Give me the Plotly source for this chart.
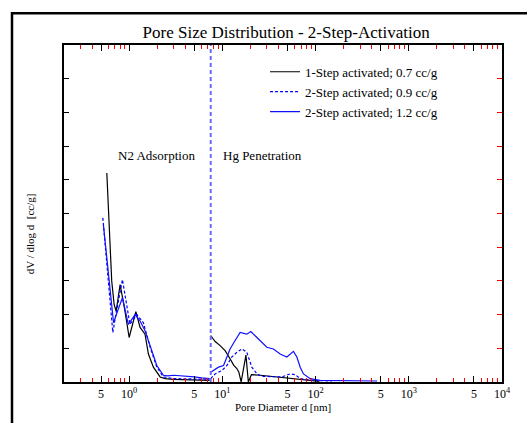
import plotly.graph_objects as go
import math

# ---------------- data ----------------
# N2 adsorption branch (pore diameter nm, dV/dlog d)
n2_d_1step = [0.576, 0.65, 0.69, 0.725, 0.80, 0.89, 1.0, 1.18, 1.31, 1.48, 1.61, 1.82, 2.15, 2.43, 3.0, 4.0, 5.0, 6.0, 7.3]
n2_v_1step = [6.2, 3.0, 2.3, 2.1, 2.89, 2.2, 1.32, 2.09, 1.62, 1.42, 0.83, 0.44, 0.15, 0.10, 0.08, 0.07, 0.06, 0.05, 0.05]

n2_d_2step09 = [0.522, 0.668, 0.72, 0.847, 1.02, 1.21, 1.42, 1.68, 1.98, 2.33, 3.0, 4.0, 5.0, 6.0, 7.3]
n2_v_2step09 = [4.87, 1.47, 2.0, 3.04, 1.71, 2.0, 1.76, 1.03, 0.44, 0.15, 0.10, 0.10, 0.09, 0.08, 0.08]

n2_d_2step12 = [0.53, 0.68, 0.75, 0.847, 0.98, 1.16, 1.31, 1.48, 1.75, 1.98, 2.33, 2.6, 3.0, 4.0, 5.0, 6.0, 7.3]
n2_v_2step12 = [4.65, 1.76, 2.1, 2.5, 1.71, 2.0, 1.81, 1.52, 0.93, 0.49, 0.2, 0.18, 0.2, 0.18, 0.15, 0.12, 0.1]

# Hg penetration branch
hg_d_1step = [7.5, 8.37, 9.47, 10.7, 12.1, 13.2, 14.3, 15.0, 15.9, 16.8, 17.9, 19.0, 20.5, 25.5, 32.6, 45.3, 68.4, 94.9, 110]
hg_v_1step = [1.38, 1.2, 1.08, 0.93, 0.69, 0.5, 0.4, 0.3, 0.0, 0.4, 0.8, 0.0, 0.22, 0.2, 0.17, 0.14, 0.1, 0.05, 0.02]

hg_d_2step09 = [7.5, 8.37, 9.88, 11.2, 12.6, 14.3, 16.2, 18.3, 20.7, 23.5, 26.5, 34.0, 43.5, 53.4, 60.4, 68.4, 91.2, 150]
hg_v_2step09 = [0.1, 0.24, 0.34, 0.49, 0.74, 0.88, 0.98, 0.88, 0.44, 0.24, 0.17, 0.15, 0.15, 0.24, 0.22, 0.1, 0.05, 0.03]

hg_d_2step12 = [7.5, 9.08, 10.3, 12.1, 13.7, 15.5, 18.3, 20.2, 23.5, 26.5, 30.0, 35.3, 41.7, 49.2, 57.9, 63.0, 68.4, 74.2, 87.5, 112, 200, 458]
hg_v_2step12 = [0.29, 0.44, 0.49, 0.98, 1.23, 1.47, 1.42, 1.5, 1.32, 1.18, 1.03, 0.98, 0.83, 0.74, 0.91, 0.74, 0.44, 0.24, 0.1, 0.05, 0.04, 0.03]

series_names = ["1-Step activated; 0.7 cc/g", "2-Step activated; 0.9 cc/g", "2-Step activated; 1.2 cc/g"]

boundary_d = 7.5
y_min, y_max = 0, 10
x_min, x_max = 0.2, 10000

major_tickvals = [0.5, 1, 5, 10, 50, 100, 500, 1000, 5000, 10000]
major_ticktext = ["5", "10<sup>0</sup>", "5", "10<sup>1</sup>", "5", "10<sup>2</sup>",
                  "5", "10<sup>3</sup>", "5", "10<sup>4</sup>"]
minor_tickvals = [m * 10 ** e for e in range(-1, 4) for m in (2, 3, 4, 6, 7, 8, 9)]
y_tickvals = [1, 2, 3, 4, 5, 6, 7, 8, 9]

FONT = "Liberation Serif, Times New Roman, serif"

fig = go.Figure()

styles = [
    dict(color="black", width=1.2, dash="solid"),
    dict(color="#0000ff", width=1.2, dash="3px,2px"),
    dict(color="#1010ff", width=1.2, dash="solid"),
]
data = [
    (n2_d_1step, n2_v_1step, hg_d_1step, hg_v_1step),
    (n2_d_2step09, n2_v_2step09, hg_d_2step09, hg_v_2step09),
    (n2_d_2step12, n2_v_2step12, hg_d_2step12, hg_v_2step12),
]
for name, st, (nd, nv, hd, hv) in zip(series_names, styles, data):
    fig.add_trace(go.Scatter(
        x=nd + [None] + hd, y=nv + [None] + hv, mode="lines", name=name,
        line=dict(color=st["color"], width=st["width"], dash=st["dash"]),
        connectgaps=False,
    ))

# boundary line between N2 and Hg ranges
fig.add_trace(go.Scatter(
    x=[boundary_d, boundary_d], y=[y_min, y_max], mode="lines", showlegend=False,
    line=dict(color="#6b6bff", width=2, dash="4px,3px"), hoverinfo="skip",
))

# helper trace for right-hand y axis ticks
fig.add_trace(go.Scatter(x=[None], y=[None], yaxis="y2", showlegend=False, hoverinfo="skip"))

fig.update_layout(
    width=527, height=423,
    margin=dict(l=64, r=25, t=45, b=38),
    paper_bgcolor="white", plot_bgcolor="white",
    font=dict(family=FONT, color="black", size=12),
    title=dict(text="Pore Size Distribution - 2-Step-Activation", x=0.543, xanchor="center",
               y=1 - 32 / 423, yanchor="middle", font=dict(size=17, family=FONT)),
    showlegend=True,
    legend=dict(x=0.459, y=0.965, xanchor="left", yanchor="top", bgcolor="rgba(0,0,0,0)",
                font=dict(size=13, family=FONT), tracegroupgap=0),
    xaxis=dict(
        type="log", range=[math.log10(x_min), math.log10(x_max)],
        showgrid=False, zeroline=False,
        showline=True, linecolor="black", linewidth=2, mirror="ticks",
        tickmode="array", tickvals=major_tickvals, ticktext=major_ticktext,
        ticks="inside", ticklen=6, tickcolor="black", tickwidth=1,
        tickfont=dict(size=12, family=FONT),
        minor=dict(tickmode="array", tickvals=minor_tickvals, ticks="inside",
                   ticklen=4, tickcolor="red", tickwidth=1),
        title=dict(text="Pore Diameter d [nm]", font=dict(size=11, family=FONT), standoff=2),
    ),
    yaxis=dict(
        range=[y_min, y_max], showgrid=False, zeroline=False,
        showline=True, linecolor="black", linewidth=2, mirror=True,
        tickmode="array", tickvals=y_tickvals, ticks="inside", ticklen=5,
        tickcolor="black", showticklabels=False,
    ),
    yaxis2=dict(
        range=[y_min, y_max], overlaying="y", side="right", showgrid=False, zeroline=False,
        showline=False, tickmode="array", tickvals=y_tickvals, ticks="inside", ticklen=5,
        tickcolor="red", showticklabels=False,
    ),
)

# y axis label
fig.add_annotation(text="dV / dlog d  [cc/g]", xref="paper", yref="paper",
                   x=(30 - 64) / 438, y=(385 - 236) / 340, xanchor="center", yanchor="middle",
                   textangle=-90, showarrow=False, font=dict(size=11, family=FONT))
# region labels
fig.add_annotation(text="N2 Adsorption", xref="paper", yref="paper",
                   x=(156 - 64) / 438, y=(385 - 156) / 340, xanchor="center", yanchor="middle",
                   showarrow=False, font=dict(size=13, family=FONT))
fig.add_annotation(text="Hg Penetration", xref="paper", yref="paper",
                   x=(262 - 64) / 438, y=(385 - 156) / 340, xanchor="center", yanchor="middle",
                   showarrow=False, font=dict(size=13, family=FONT))

# outer frame (extends beyond the visible page on the right/bottom)
fig.add_shape(type="rect", xref="paper", yref="paper",
              x0=(12 - 64) / 438, x1=(540 - 64) / 438,
              y0=(385 - 440) / 340, y1=(385 - 13) / 340,
              line=dict(color="black", width=2.5), fillcolor="rgba(0,0,0,0)", layer="below")

fig.write_html("out.html")
